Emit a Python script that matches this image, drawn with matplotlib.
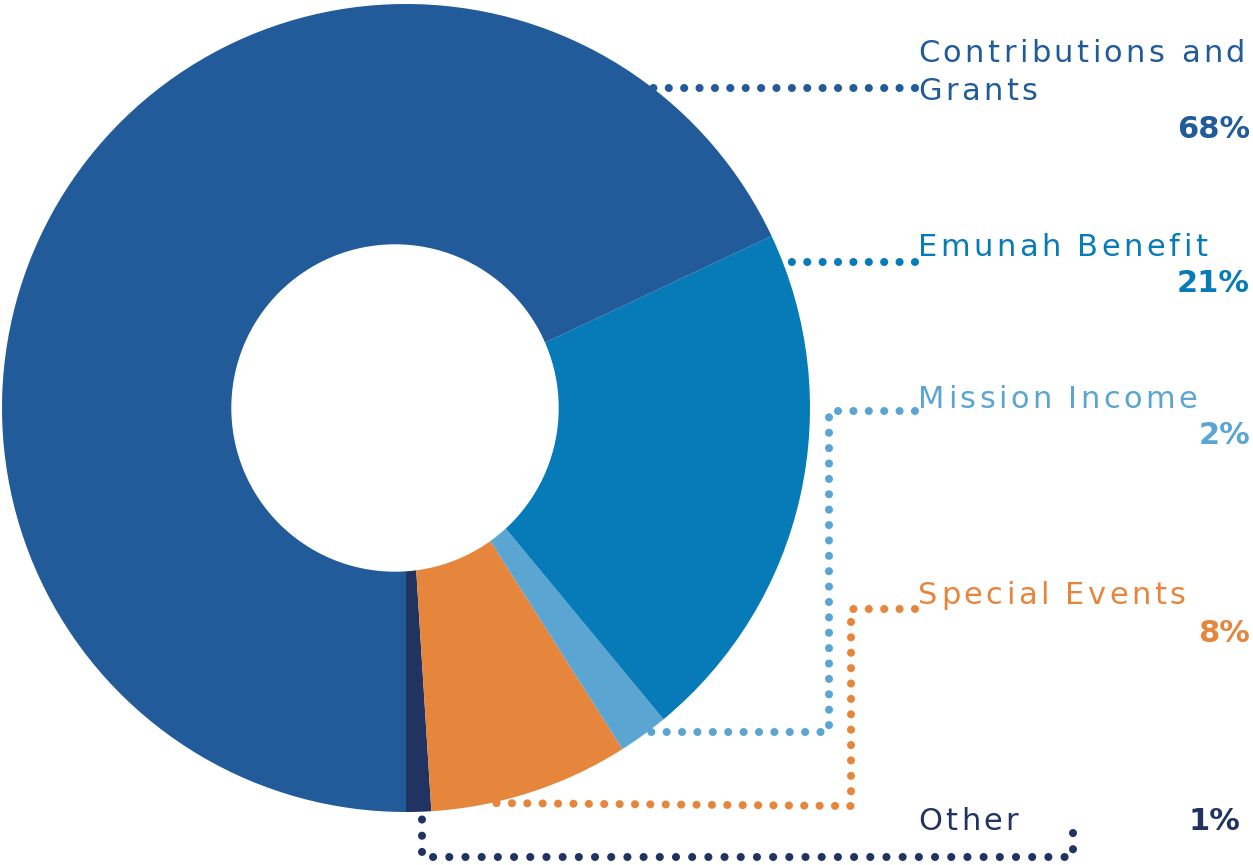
import matplotlib.pyplot as plt
from matplotlib.patches import Circle

# slices, counterclockwise from the bottom
labels = ['Other', 'Special Events', 'Mission Income', 'Emunah Benefit', 'Contributions and\nGrants']
shares = [1, 8, 2, 21, 68]
colors = ['#213360', '#E6863D', '#5BA5D3', '#077BB7', '#215B9A']

W, H = 1253, 865
fig = plt.figure(figsize=(W / 100, H / 100), dpi=100)
ax = fig.add_axes([0, 0, 1, 1])

ax.pie(shares, colors=colors, startangle=-90, counterclock=True,
       center=(406, H - 408), radius=404, frame=True,
       wedgeprops=dict(linewidth=0))
ax.add_patch(Circle((395, H - 408), 163, color='white', zorder=3))

ax.set_xlim(0, W)
ax.set_ylim(0, H)
ax.set_aspect('equal')
ax.axis('off')


def dots(xs, ys, c, gap=1.9):
    ax.plot(xs, [H - y for y in ys], color=c, lw=5.8,
            linestyle=(0, (0.01, gap)), dash_capstyle='round', zorder=4)


# leader lines (pixel layout)
dots([915, 650], [88, 88], colors[4])
dots([915, 790], [262, 262], colors[3])
dots([915, 829, 829, 650], [411, 411, 732, 732], colors[2])
dots([915, 851, 851, 485], [609, 609, 806, 803], colors[1])
dots([1073, 1073, 422, 422], [833, 857, 857, 815], colors[0], gap=2.0)

# label text with wide letter spacing
renderer = fig.canvas.get_renderer()
fs = 22
track = 3.4


def spaced(x, y, s, c):
    for ch in s:
        if ch == ' ':
            x += 0.318 * fs * 100 / 72 + track
            continue
        t = ax.text(x, H - y - 2, ch, color=c, fontsize=fs, va='center', ha='left')
        x += t.get_window_extent(renderer).width + track


spaced(918, 52, 'Contributions and', colors[4])
spaced(918, 90, 'Grants', colors[4])
spaced(918, 245, 'Emunah Benefit', colors[3])
spaced(918, 397, 'Mission Income', colors[2])
spaced(918, 594, 'Special Events', colors[1])
spaced(918, 820, 'Other', colors[0])

pct_pos = [(1240, 820), (1250, 632), (1250, 434), (1250, 282), (1250, 128)]
for s, c, (x, y) in zip(shares, colors, pct_pos):
    ax.text(x, H - y - 1, f'{s}%', color=c, fontsize=fs, fontweight='bold',
            va='center', ha='right')

fig.savefig('out.png', dpi=100)
